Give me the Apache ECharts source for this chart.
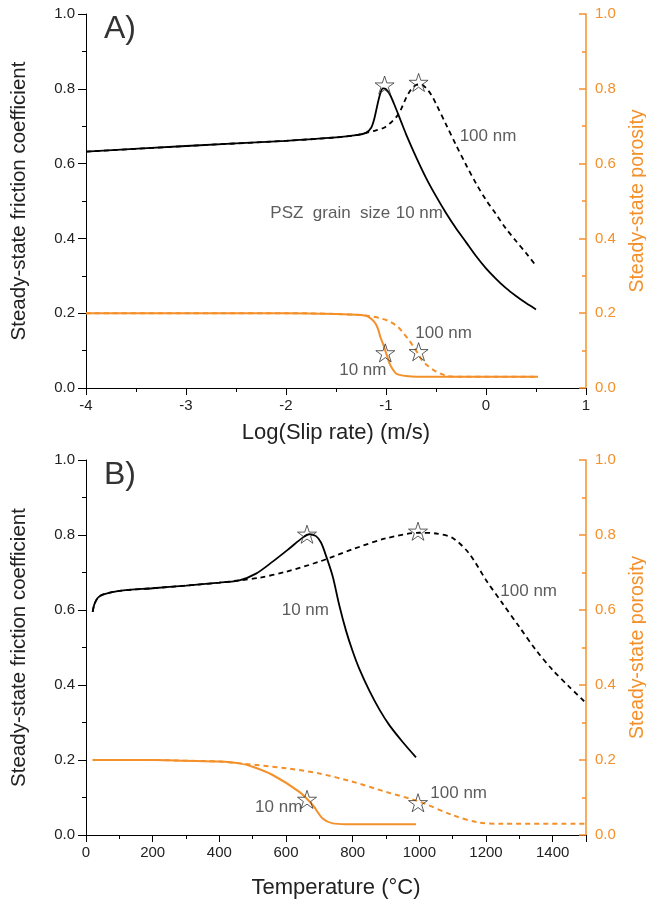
<!DOCTYPE html>
<html>
<head>
<meta charset="utf-8">
<script src="https://cdn.jsdelivr.net/npm/echarts@6/dist/echarts.min.js"></script>
<style>
  html, body { margin: 0; padding: 0; background: #fff; }
  #chart { width: 646px; height: 905px; }
</style>
</head>
<body>
<div id="chart"></div>
<script>
// ---- panel A : log slip rate ----
var aFric10 = [[-4, 0.632], [-3, 0.647], [-2, 0.661], [-1.5, 0.670], [-1.3, 0.676], [-1.2, 0.682],
	[-1.15, 0.695], [-1.12, 0.717], [-1.09, 0.752], [-1.06, 0.785], [-1.03, 0.801], [-1.0, 0.799],
	[-0.96, 0.784], [-0.92, 0.76], [-0.85, 0.713], [-0.8, 0.679], [-0.7, 0.618], [-0.6, 0.562],
	[-0.5, 0.513], [-0.4, 0.468], [-0.3, 0.427], [-0.2, 0.39], [-0.1, 0.353], [0, 0.32],
	[0.1, 0.292], [0.2, 0.267], [0.3, 0.246], [0.4, 0.227], [0.5, 0.21]];
var aFric100 = [[-4, 0.632], [-3, 0.647], [-2, 0.661], [-1.5, 0.670], [-1.3, 0.676], [-1.2, 0.682],
	[-1.1, 0.689], [-1.02, 0.696], [-0.95, 0.71], [-0.89, 0.727], [-0.85, 0.745], [-0.8, 0.775],
	[-0.75, 0.798], [-0.7, 0.81], [-0.65, 0.812], [-0.6, 0.802], [-0.55, 0.785], [-0.5, 0.76],
	[-0.4, 0.705], [-0.3, 0.65], [-0.2, 0.597], [-0.1, 0.547], [0, 0.503], [0.1, 0.465],
	[0.2, 0.426], [0.3, 0.393], [0.4, 0.361], [0.5, 0.327]];
var aPor10 = [[-4, 0.2], [-2, 0.2], [-1.5, 0.198], [-1.25, 0.195], [-1.19, 0.192], [-1.14, 0.183],
	[-1.107, 0.173], [-1.08, 0.158], [-1.057, 0.137], [-1.03, 0.118], [-1.007, 0.1], [-0.98, 0.078],
	[-0.957, 0.061], [-0.92, 0.045], [-0.89, 0.037], [-0.8, 0.032], [-0.69, 0.03], [0.52, 0.03]];
var aPor100 = [[-4, 0.2], [-2, 0.2], [-1.5, 0.198], [-1.25, 0.195], [-1.16, 0.192], [-1.05, 0.186],
	[-0.957, 0.177], [-0.88, 0.163], [-0.824, 0.146], [-0.77, 0.128], [-0.724, 0.11], [-0.68, 0.092],
	[-0.64, 0.074], [-0.58, 0.059], [-0.524, 0.048], [-0.45, 0.038], [-0.39, 0.032], [-0.3, 0.03], [0.52, 0.03]];
var aStarFric = [[-1.014, 0.81], [-0.674, 0.817]];
var aStarPor = [[-1.007, 0.094], [-0.674, 0.097]];
var aNotes = [[0.02, 0.672, '100 nm'], [-1.557, 0.467, 'PSZ  grain  size'], [-0.667, 0.467, '10 nm'],
	[-0.424, 0.146, '100 nm'], [-1.232, 0.046, '10 nm']];

// ---- panel B : temperature ----
var bFric10 = [[20, 0.595], [25, 0.615], [35, 0.632], [50, 0.641], [100, 0.651], [200, 0.658],
	[300, 0.665], [400, 0.673], [460, 0.679], [510, 0.697], [560, 0.729], [610, 0.764], [650, 0.793],
	[670, 0.802], [690, 0.797], [705, 0.78], [720, 0.745], [740, 0.69], [760, 0.612], [780, 0.545],
	[800, 0.49], [820, 0.443], [850, 0.385], [880, 0.335], [910, 0.293], [950, 0.248], [990, 0.207]];
var bFric100 = [[20, 0.595], [25, 0.615], [35, 0.632], [50, 0.641], [100, 0.651], [200, 0.658],
	[300, 0.665], [400, 0.673], [460, 0.679], [520, 0.686], [600, 0.702], [700, 0.729], [800, 0.762],
	[900, 0.791], [1000, 0.806], [1050, 0.804], [1100, 0.792], [1150, 0.75], [1200, 0.68],
	[1250, 0.617], [1300, 0.555], [1350, 0.493], [1400, 0.44], [1450, 0.395], [1500, 0.352]];
var bPor10 = [[20, 0.2], [100, 0.2], [200, 0.2], [300, 0.198], [400, 0.196], [460, 0.191],
	[500, 0.182], [560, 0.16], [640, 0.115], [680, 0.08], [710, 0.044], [740, 0.031], [780, 0.029], [990, 0.029]];
var bPor100 = [[20, 0.2], [200, 0.2], [300, 0.198], [400, 0.196], [460, 0.191], [600, 0.178],
	[700, 0.164], [800, 0.142], [900, 0.115], [1000, 0.089], [1100, 0.053], [1180, 0.033],
	[1250, 0.03], [1500, 0.03]];
var bStarFric = [[663, 0.802], [996, 0.81]];
var bStarPor = [[663, 0.095], [996, 0.086]];
var bNotes = [[658, 0.6, '10 nm'], [1328, 0.651, '100 nm'], [1118, 0.111, '100 nm'], [578, 0.073, '10 nm']];

var yTicks = [0, 0.2, 0.4, 0.6, 0.8, 1.0];

var ORANGE = '#f4902a';
var FONT = 'Liberation Sans, Arial, sans-serif';
var TXT = '#222';
var STAR = 'path://M50 0 L61.23 34.55 L97.55 34.55 L68.16 55.9 L79.39 90.45 L50 69.1 L20.61 90.45 L31.84 55.9 L2.45 34.55 L38.77 34.55 Z';

function leftAxis(grid) {
	return {
		type: 'value', gridIndex: grid, position: 'left',
		min: yTicks[0], max: yTicks[yTicks.length - 1], interval: 0.2,
		name: 'Steady-state friction coefficient', nameLocation: 'middle', nameGap: 56, nameRotate: 90,
		nameTextStyle: { color: TXT, fontSize: 20.5, fontFamily: FONT },
		axisLine: { show: true, onZero: false, lineStyle: { color: '#000', width: 1 } },
		axisTick: { show: true, inside: false, length: 8, lineStyle: { color: '#000' } },
		minorTick: { show: true, splitNumber: 2, length: 4, lineStyle: { color: '#000' } },
		axisLabel: { color: TXT, fontSize: 15, fontFamily: FONT, margin: 11,
			formatter: function (v) { return v.toFixed(1); } },
		splitLine: { show: false }
	};
}

function rightAxis(grid) {
	return {
		type: 'value', gridIndex: grid, position: 'right',
		min: yTicks[0], max: yTicks[yTicks.length - 1], interval: 0.2,
		name: 'Steady-state porosity', nameLocation: 'middle', nameGap: 42, nameRotate: 90,
		nameTextStyle: { color: ORANGE, fontSize: 19.5, fontFamily: FONT },
		axisLine: { show: true, onZero: false, lineStyle: { color: ORANGE, width: 1.5 } },
		axisTick: { show: true, inside: true, length: 7, lineStyle: { color: ORANGE, width: 1.5 } },
		minorTick: { show: true, splitNumber: 2, length: 4, lineStyle: { color: ORANGE, width: 1.5 } },
		axisLabel: { color: ORANGE, fontSize: 15, fontFamily: FONT, margin: 9,
			formatter: function (v) { return v.toFixed(1); } },
		splitLine: { show: false }
	};
}

function xAxis(grid, min, max, step, name, gap) {
	return {
		type: 'value', gridIndex: grid, min: min, max: max, interval: step,
		name: name, nameLocation: 'middle', nameGap: gap,
		nameTextStyle: { color: TXT, fontSize: 22, fontFamily: FONT },
		axisLine: { show: true, onZero: false, lineStyle: { color: '#000', width: 1 } },
		axisTick: { show: true, length: 7, lineStyle: { color: '#000' } },
		minorTick: { show: true, splitNumber: 2, length: 4, lineStyle: { color: '#000' } },
		axisLabel: { color: TXT, fontSize: 15, fontFamily: FONT, margin: 10,
			formatter: function (v) { return (v - min) % step === 0 ? String(v) : ''; } },
		splitLine: { show: false }
	};
}

function line(data, x, y, color, dashed, width) {
	return {
		type: 'line', xAxisIndex: x, yAxisIndex: y, data: data,
		showSymbol: false, symbol: 'none', smooth: 0.3, silent: true,
		lineStyle: { color: color, width: width, type: dashed ? [5, 4] : 'solid' },
		z: 3
	};
}

function stars(data, x, y) {
	return {
		type: 'scatter', xAxisIndex: x, yAxisIndex: y, data: data,
		symbol: STAR, symbolSize: 19, symbolKeepAspect: true, silent: true,
		itemStyle: { color: 'rgba(0,0,0,0)', borderColor: '#333', borderWidth: 1 },
		z: 5
	};
}

function notes(list, x, y) {
	return {
		type: 'scatter', xAxisIndex: x, yAxisIndex: y, silent: true,
		symbolSize: 1, itemStyle: { color: 'rgba(0,0,0,0)' },
		data: list.map(function (n) { return { value: [n[0], n[1]], name: n[2] }; }),
		label: { show: true, position: 'inside', formatter: '{b}', color: '#333',
			fontSize: 17, fontFamily: FONT },
		z: 6
	};
}

var chart = echarts.init(document.getElementById('chart'));
var option = {
	animation: false,
	backgroundColor: '#fff',
	grid: [
		{ left: 86, top: 14, width: 500, height: 374, outerBoundsMode: 'none', containLabel: false },
		{ left: 86, top: 460, width: 500, height: 375, outerBoundsMode: 'none', containLabel: false }
	],
	xAxis: [
		xAxis(0, -4, 1, 1, 'Log(Slip rate) (m/s)', 34),
		xAxis(1, 0, 1500, 200, 'Temperature (\u00B0C)', 42)
	],
	yAxis: [leftAxis(0), rightAxis(0), leftAxis(1), rightAxis(1)],
	graphic: [
		{ type: 'text', left: 104, top: 13, style: { text: 'A)', fontSize: 32, fontFamily: FONT, fill: '#333' } },
		{ type: 'text', left: 104, top: 459, style: { text: 'B)', fontSize: 32, fontFamily: FONT, fill: '#333' } }
	],
	series: [
		line(aPor10, 0, 1, ORANGE, false, 2),
		line(aPor100, 0, 1, ORANGE, true, 2),
		line(aFric10, 0, 0, '#000', false, 1.8),
		line(aFric100, 0, 0, '#000', true, 1.8),
		stars(aStarFric, 0, 0),
		stars(aStarPor, 0, 1),
		notes(aNotes, 0, 0),
		line(bPor10, 1, 3, ORANGE, false, 2),
		line(bPor100, 1, 3, ORANGE, true, 2),
		line(bFric10, 1, 2, '#000', false, 1.8),
		line(bFric100, 1, 2, '#000', true, 1.8),
		stars(bStarFric, 1, 2),
		stars(bStarPor, 1, 3),
		notes(bNotes, 1, 2)
	]
};
chart.setOption(option);
</script>
</body>
</html>
